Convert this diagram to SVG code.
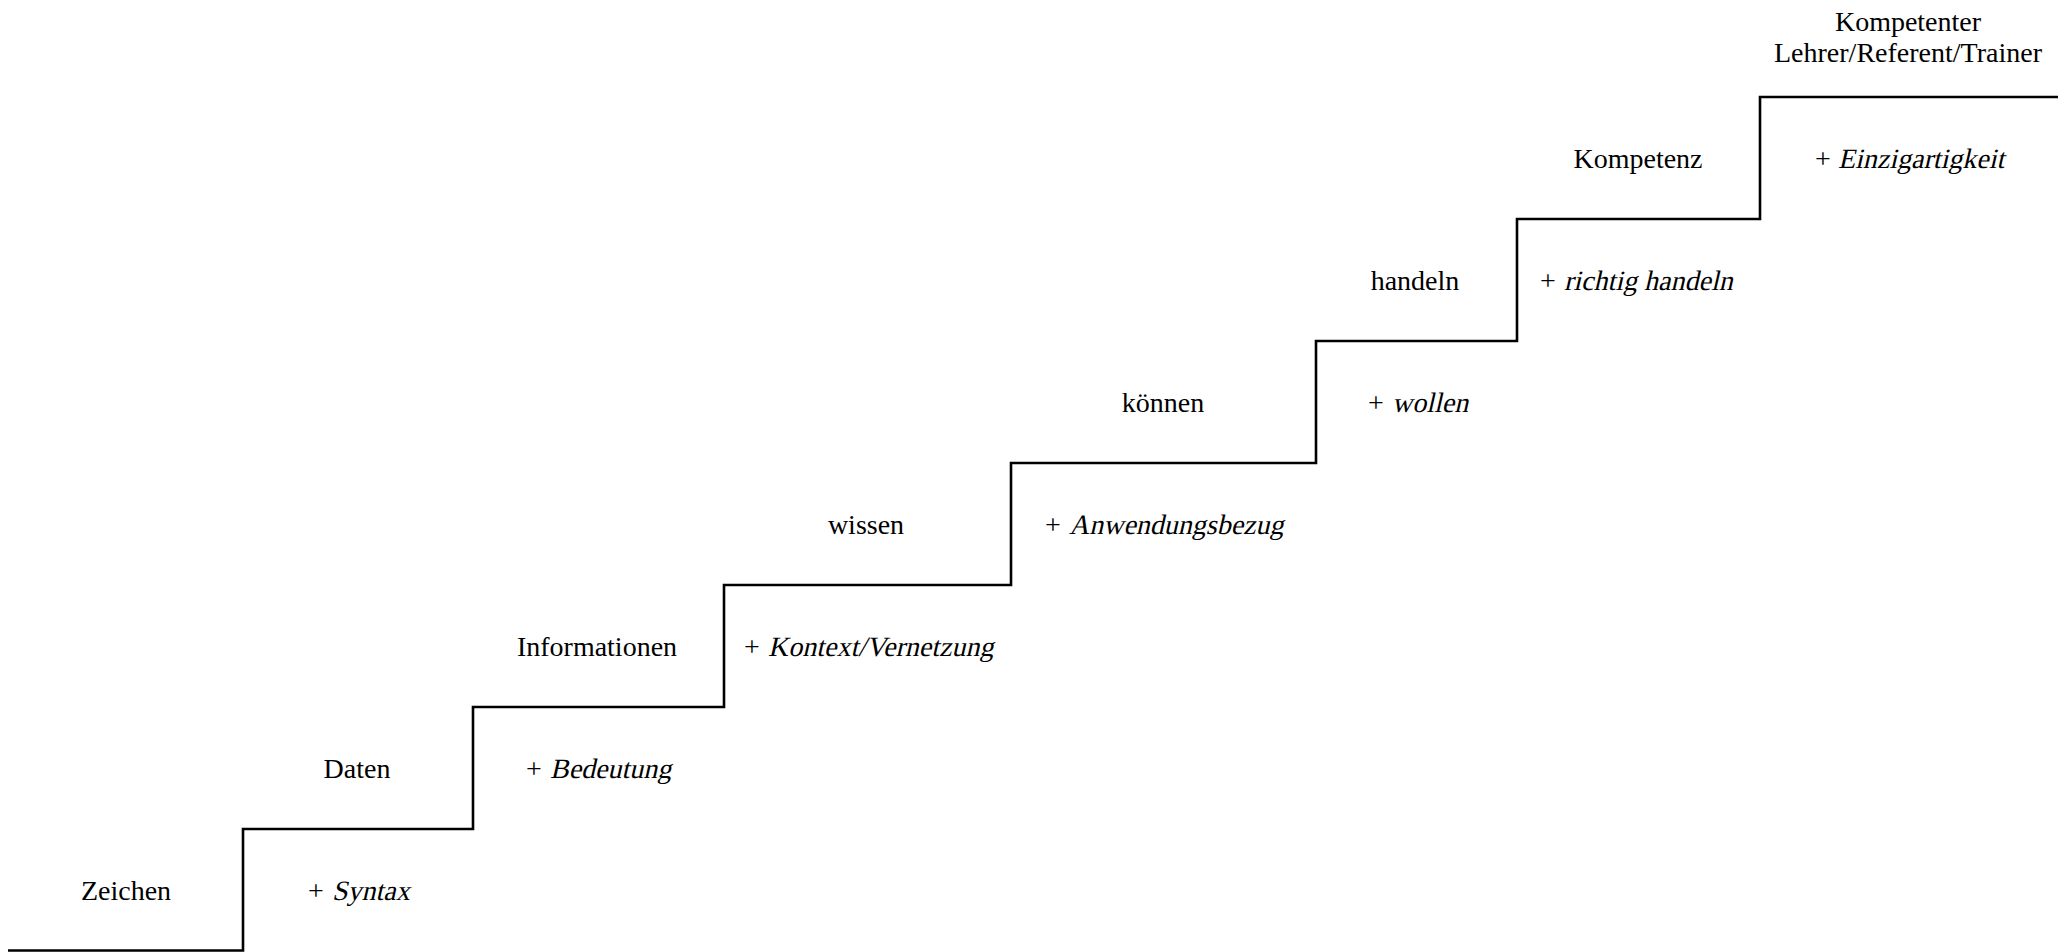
<svg xmlns="http://www.w3.org/2000/svg" width="2067" height="952" viewBox="0 0 2067 952">
<style>
text{font-family:"Liberation Serif","Times New Roman",serif;font-size:28px;fill:#000}
.c{text-anchor:middle}
.stair{fill:none;stroke:#000;stroke-width:2.6;stroke-linejoin:miter}
</style>
<rect width="2067" height="952" fill="#fff"/>
<g id="connectors">
<path class="stair" d="M8,950.5 H243 V829 H473 V707 H724 V585 H1011 V463 H1316 V341 H1517 V219 H1760 V97 H2058"/>
</g>
<g id="zeichen"><text class="c" x="126" y="900">Zeichen</text></g>
<g id="syntax"><text x="308" y="900">+</text><text transform="translate(332,900) skewX(-13)">Syntax</text></g>
<g id="daten"><text class="c" x="357" y="778">Daten</text></g>
<g id="bedeutung"><text x="526" y="778">+</text><text transform="translate(550,778) skewX(-13)">Bedeutung</text></g>
<g id="informationen"><text class="c" x="597" y="656">Informationen</text></g>
<g id="kontext"><text x="744" y="656">+</text><text transform="translate(768,656) skewX(-13)">Kontext/Vernetzung</text></g>
<g id="wissen"><text class="c" x="866" y="534">wissen</text></g>
<g id="anwendungsbezug"><text x="1045" y="534">+</text><text transform="translate(1069,534) skewX(-13)">Anwendungsbezug</text></g>
<g id="koennen"><text class="c" x="1163" y="412">können</text></g>
<g id="wollen"><text x="1368" y="412">+</text><text transform="translate(1392,412) skewX(-13)">wollen</text></g>
<g id="handeln"><text class="c" x="1415" y="290">handeln</text></g>
<g id="richtig"><text x="1540" y="290">+</text><text transform="translate(1564,290) skewX(-13)">richtig handeln</text></g>
<g id="kompetenz"><text class="c" x="1638" y="168">Kompetenz</text></g>
<g id="einzigartigkeit"><text x="1815" y="168">+</text><text transform="translate(1838,168) skewX(-13)">Einzigartigkeit</text></g>
<g id="kompetenter"><text class="c" x="1908" y="31">Kompetenter</text><text class="c" x="1908" y="62">Lehrer/Referent/Trainer</text></g>
</svg>
